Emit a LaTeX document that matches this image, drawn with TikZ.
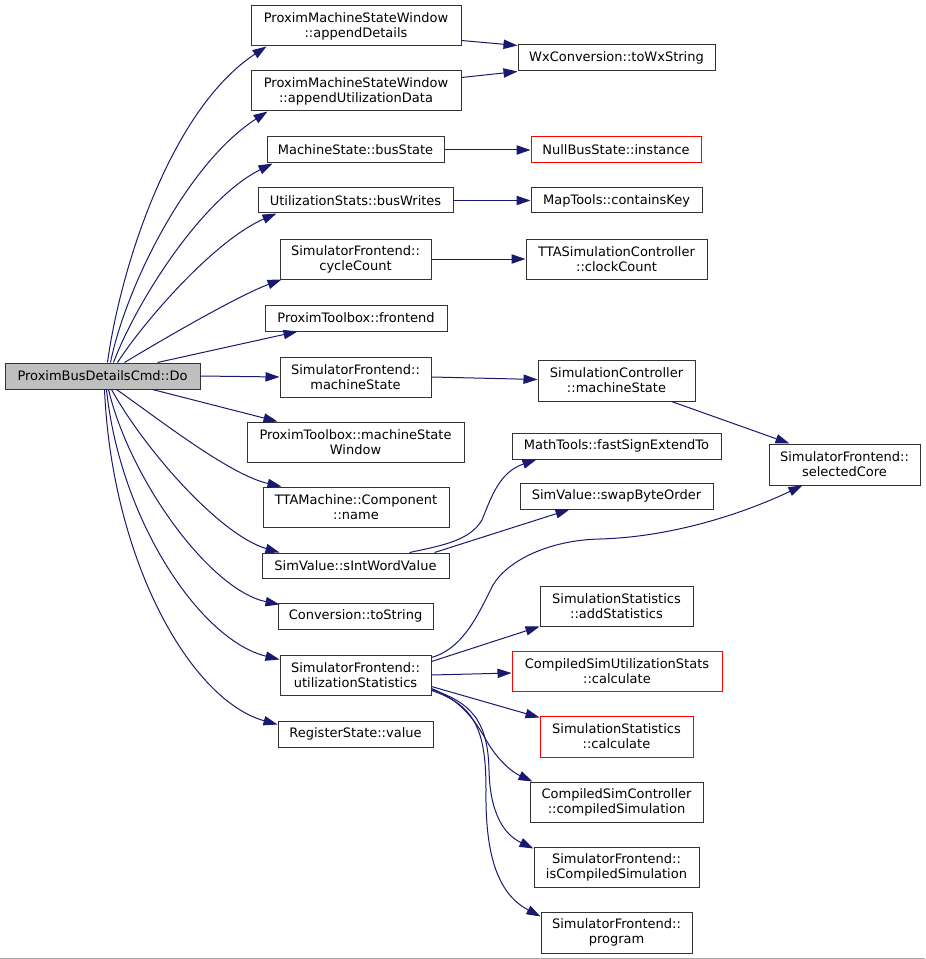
\documentclass[tikz,border=0pt]{standalone}
\usepackage{fontspec}
\setmainfont{DejaVu Sans}
\usetikzlibrary{arrows.meta,calc}
\definecolor{edgec}{HTML}{191970}
\definecolor{boxc}{HTML}{333333}
\definecolor{redc}{HTML}{FF0000}
\definecolor{grayfill}{HTML}{BFBFBF}
\begin{document}
\begin{tikzpicture}[x=0.75pt,y=-0.75pt,
  nd/.style 2 args={draw=boxc,line width=0.75pt,rectangle,inner sep=0pt,align=center,
    minimum width=#1*0.75pt,minimum height=#2*0.75pt,
    font={\fontsize{9.75}{11.25}\selectfont}},
  rednd/.style={draw=redc},
  rootnd/.style={fill=grayfill},
  edge/.style={draw=edgec,line width=0.75pt,-{Triangle[length=10.5pt,width=7pt]}}]
\useasboundingbox (0,0) rectangle (925,959);
\fill[white] (0,0) rectangle (925,959);
\draw[gray!70,line width=0.75pt] (0,958) -- (925,958);

% root
\node[nd={195}{26},rootnd] (do) at (102.5,376) {ProximBusDetailsCmd::Do};
% middle column
\node[nd={210}{40}] (ad) at (356,26) {ProximMachineStateWindow\\::appendDetails};
\node[nd={210}{40}] (aud) at (356,91) {ProximMachineStateWindow\\::appendUtilizationData};
\node[nd={177}{26}] (bs) at (355.5,150) {MachineState::busState};
\node[nd={195}{25}] (bw) at (355.5,200.5) {UtilizationStats::busWrites};
\node[nd={151}{40}] (cc) at (355.5,259) {SimulatorFrontend::\\cycleCount};
\node[nd={182}{26}] (fe) at (356,318) {ProximToolbox::frontend};
\node[nd={151}{40}] (ms) at (355.5,377) {SimulatorFrontend::\\machineState};
\node[nd={217}{40}] (msw) at (355.5,442) {ProximToolbox::machineState\\Window};
\node[nd={186}{40}] (cn) at (356,507) {TTAMachine::Component\\::name};
\node[nd={187}{25}] (siw) at (355.5,565.5) {SimValue::sIntWordValue};
\node[nd={155}{26}] (ts) at (355.5,616) {Conversion::toString};
\node[nd={151}{40}] (us) at (355.5,675) {SimulatorFrontend::\\utilizationStatistics};
\node[nd={155}{26}] (rv) at (355.5,734) {RegisterState::value};
% right column
\node[nd={197}{26}] (wx) at (616.5,58) {WxConversion::toWxString};
\node[nd={170}{26},rednd] (nb) at (616,150) {NullBusState::instance};
\node[nd={171}{25}] (ck) at (616.5,200.5) {MapTools::containsKey};
\node[nd={181}{40}] (clk) at (616.5,259) {TTASimulationController\\::clockCount};
\node[nd={157}{41}] (scm) at (616.5,380.5) {SimulationController\\::machineState};
\node[nd={209}{26}] (fse) at (616.5,446) {MathTools::fastSignExtendTo};
\node[nd={193}{26}] (sbo) at (616.5,496) {SimValue::swapByteOrder};
\node[nd={153}{40}] (as) at (616.5,606) {SimulationStatistics\\::addStatistics};
\node[nd={210}{40},rednd] (csus) at (617,671) {CompiledSimUtilizationStats\\::calculate};
\node[nd={153}{41},rednd] (ssc) at (616.5,736.5) {SimulationStatistics\\::calculate};
\node[nd={173}{40}] (csc) at (616.5,802) {CompiledSimController\\::compiledSimulation};
\node[nd={165}{40}] (icm) at (616.5,867) {SimulatorFrontend::\\isCompiledSimulation};
\node[nd={151}{41}] (prg) at (616.5,932.5) {SimulatorFrontend::\\program};
\node[nd={151}{41}] (sc) at (844.5,464.5) {SimulatorFrontend::\\selectedCore};

% edges from root
\draw[edge] ($(do.north west)+(103,0)$) .. controls (120,270) and (170,110) .. ($(ad.south west)+(16,0)$);
\draw[edge] ($(do.north west)+(106,0)$) .. controls (125,290) and (185,165) .. ($(aud.south west)+(17,0)$);
\draw[edge] ($(do.north west)+(109,0)$) .. controls (135,305) and (200,200) .. ($(bs.south west)+(6,0)$);
\draw[edge] ($(do.north west)+(113,0)$) .. controls (145,320) and (215,240) .. ($(bw.south west)+(19,0)$);
\draw[edge] ($(do.north west)+(120,0)$) .. controls (170,335) and (240,295) .. ($(cc.south west)+(2,0)$);
\draw[edge] ($(do.north west)+(153,0)$) -- ($(fe.south west)+(33,0)$);
\draw[edge] (do.east) -- (ms.west);
\draw[edge] ($(do.south west)+(148,0)$) -- ($(msw.north west)+(31,0)$);
\draw[edge] ($(do.south west)+(112,0)$) .. controls (160,420) and (230,475) .. ($(cn.north west)+(19,0)$);
\draw[edge] ($(do.south west)+(107,0)$) .. controls (145,450) and (220,535) .. ($(siw.north west)+(18,0)$);
\draw[edge] ($(do.south west)+(104,0)$) .. controls (130,480) and (210,590) .. ($(ts.north west)+(2,2)$);
\draw[edge] ($(do.south west)+(102,0)$) .. controls (120,520) and (200,640) .. ($(us.north west)+(0,5)$);
\draw[edge] ($(do.south west)+(100,0)$) .. controls (112,560) and (190,700) .. ($(rv.north west)+(0,4)$);

% second level
\draw[edge] ($(ad.south east)+(0,-6)$) -- ($(wx.north west)+(0,1)$);
\draw[edge] ($(aud.north east)+(0,7)$) -- (wx.south west);
\draw[edge] (bs.east) -- (nb.west);
\draw[edge] (bw.east) -- (ck.west);
\draw[edge] (cc.east) -- (clk.west);
\draw[edge] (ms.east) -- ($(scm.west)+(0,-1)$);
\draw[edge] ($(scm.south west)+(134,0)$) -- ($(sc.north west)+(21,0)$);
\draw[edge] ($(siw.north west)+(148,0)$) .. controls (445,545) and (470,540) .. (482,520)
   .. controls (492,495) and (500,472) .. ($(fse.south west)+(25,0)$);
\draw[edge] ($(siw.north west)+(173,0)$) -- ($(sbo.south west)+(50,0)$);
\draw[edge] ($(us.north east)+(0,3)$) .. controls (465,648) and (480,610) .. (493,585)
   .. controls (508,560) and (550,540) .. (600,539)
   .. controls (670,537) and (740,515) .. ($(sc.south west)+(34,0)$);
\draw[edge] ($(us.north east)+(0,7)$) -- (as.south west);
\draw[edge] (us.east) -- ($(csus.west)+(0,2)$);
\draw[edge] ($(us.south east)+(0,-9)$) -- ($(ssc.north west)+(0,2)$);
\draw[edge] ($(us.south east)+(0,-7)$) .. controls (455,698) and (470,712) .. (485,738)
   .. controls (497,760) and (512,772) .. ($(csc.north west)+(3,0)$);
\draw[edge] ($(us.south east)+(0,-6)$) .. controls (470,702) and (488,720) .. (489,770)
   .. controls (490,815) and (505,835) .. ($(icm.north west)+(0,2)$);
\draw[edge] ($(us.south east)+(0,-5)$) .. controls (475,705) and (486,730) .. (486,790)
   .. controls (485,860) and (500,895) .. ($(prg.north west)+(0,5)$);
\end{tikzpicture}
\end{document}
